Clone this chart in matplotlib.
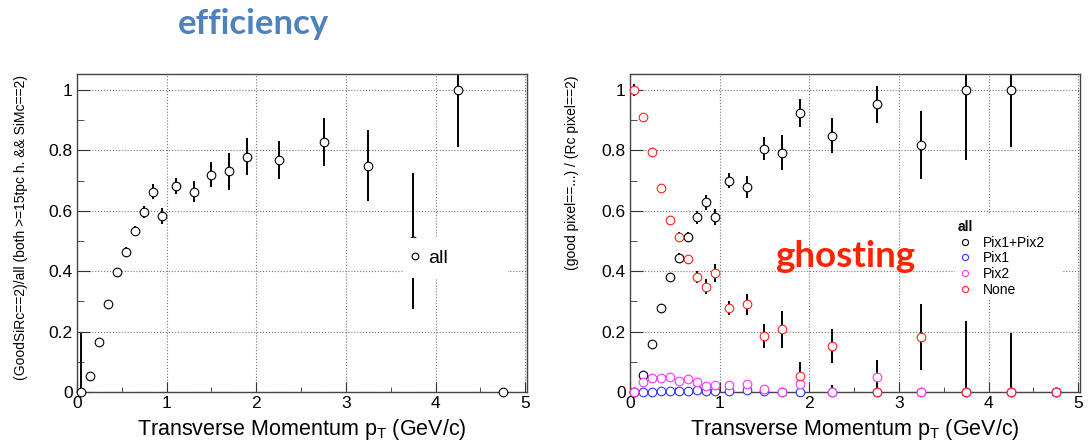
import matplotlib
matplotlib.use('Agg')
import matplotlib.pyplot as plt
from matplotlib.lines import Line2D
from matplotlib.patches import Rectangle
from matplotlib.ticker import MultipleLocator, FuncFormatter

plt.rcParams['font.family'] = ['Liberation Sans', 'DejaVu Sans']
plt.rcParams['mathtext.default'] = 'regular'

# pT bin centres (GeV/c)
pt = [0.05, 0.15, 0.25, 0.35, 0.45, 0.55, 0.65, 0.75, 0.85, 0.95,
      1.1, 1.3, 1.5, 1.7, 1.9, 2.25, 2.75, 3.25, 3.75, 4.25, 4.75]

# left: efficiency, all
eff_all = [0.0, 0.053, 0.164, 0.29, 0.397, 0.464, 0.532, 0.595, 0.663, 0.582,
           0.683, 0.663, 0.72, 0.731, 0.779, 0.768, 0.828, 0.75, 0.50, 1.0, 0.0]
eff_err = [0.195, 0.01, 0.012, 0.014, 0.015, 0.016, 0.017, 0.02, 0.025, 0.027,
           0.026, 0.035, 0.041, 0.062, 0.062, 0.064, 0.079, 0.116, 0.224, 0.19, 0.0]

# right: ghosting fractions
pix12 = [0.0, 0.056, 0.159, 0.277, 0.38, 0.444, 0.513, 0.579, 0.628, 0.579,
         0.70, 0.679, 0.805, 0.792, 0.923, 0.848, 0.953, 0.818, 1.0, 1.0, 0.0]
pix12_err = [0.0, 0.008, 0.012, 0.014, 0.015, 0.016, 0.017, 0.022, 0.025, 0.027,
             0.025, 0.035, 0.038, 0.058, 0.046, 0.058, 0.061, 0.113, 0.232, 0.19, 0.0]
pix1 = [0.0, 0.0, 0.0, 0.002, 0.002, 0.002, 0.003, 0.005, 0.002, 0.003,
        0.003, 0.005, 0.004, 0.0, 0.0, 0.0, 0.0, 0.0, 0.0, 0.0, 0.0]
pix1_err = [0.0, 0.0, 0.0, 0.0, 0.0, 0.0, 0.0, 0.0, 0.0, 0.0,
            0.0, 0.0, 0.012, 0.0, 0.0, 0.0, 0.0, 0.0, 0.0, 0.0, 0.0]
pix2 = [0.0, 0.034, 0.045, 0.045, 0.051, 0.037, 0.044, 0.032, 0.021, 0.023,
        0.023, 0.026, 0.01, 0.0, 0.026, 0.0, 0.051, 0.0, 0.0, 0.0, 0.0]
pix2_err = [0.0, 0.0, 0.0, 0.0, 0.0, 0.0, 0.0, 0.0, 0.0, 0.0,
            0.0, 0.0, 0.0, 0.012, 0.02, 0.024, 0.055, 0.0, 0.0, 0.0, 0.0]
none = [1.0, 0.91, 0.795, 0.676, 0.568, 0.514, 0.439, 0.381, 0.349, 0.395,
        0.277, 0.29, 0.186, 0.207, 0.053, 0.153, 0.0, 0.183, 0.0, 0.0, 0.0]
none_err = [0.02, 0.01, 0.012, 0.013, 0.014, 0.015, 0.016, 0.02, 0.025, 0.03,
            0.023, 0.036, 0.039, 0.06, 0.045, 0.057, 0.0, 0.11, 0.236, 0.195, 0.0]

series = [('Pix1+Pix2', pix12, pix12_err, 'black'),
          ('Pix1', pix1, pix1_err, '#3333ff'),
          ('Pix2', pix2, pix2_err, '#ff33ff'),
          ('None', none, none_err, '#ff2222')]

W, H = 1089, 446
fig = plt.figure(figsize=(W / 100, H / 100), dpi=100)
ax1 = fig.add_axes([77 / W, 54 / H, 450 / W, 318 / H])
ax2 = fig.add_axes([630 / W, 54 / H, 450 / W, 318 / H])

for ax in (ax1, ax2):
    ax.set_xlim(0, 5.02)
    ax.set_ylim(0, 1.053)
    ax.xaxis.set_major_locator(MultipleLocator(1))
    ax.xaxis.set_minor_locator(MultipleLocator(0.5))
    ax.yaxis.set_major_locator(MultipleLocator(0.2))
    ax.yaxis.set_minor_locator(MultipleLocator(0.1))
    ax.yaxis.set_major_formatter(FuncFormatter(lambda v, p: f'{v:g}'))
    ax.tick_params(which='both', direction='in', top=False, right=False,
                   labelsize=12.5, color='#333333')
    ax.tick_params(axis='x', which='major', length=7, pad=3)
    ax.tick_params(axis='x', which='minor', length=3.6)
    ax.tick_params(axis='y', which='major', length=9, pad=3)
    ax.tick_params(axis='y', which='minor', length=4.8)
    ax.grid(True, which='major', ls=':', color='#777777', lw=0.8)
    ax.set_axisbelow(True)
    for s in ax.spines.values():
        s.set_color('#444444')
        s.set_linewidth(1)
    fig.text((ax.get_position().x0 + ax.get_position().x1) / 2, 1 - 435 / H,
             'Transverse Momentum p$_{\\mathregular{T}}$ (GeV/c)',
             ha='center', va='baseline', fontsize=15.5)

# left panel
ax1.errorbar(pt, eff_all, yerr=eff_err, fmt='none', ecolor='black',
             elinewidth=1.4, capsize=0, zorder=2)
ax1.plot(pt, eff_all, 'o', mfc='white', mec='black', ms=6.2, mew=0.8,
         clip_on=False, zorder=3)
ax1.add_patch(Rectangle((0.724, 0.358), 0.234, 0.126, transform=ax1.transAxes,
                        fc='white', ec='none', zorder=4))
ax1.legend(handles=[Line2D([], [], marker='o', ls='none', mfc='white',
                           mec='black', ms=4.8, mew=0.8)],
           labels=['all'], loc='center left', bbox_to_anchor=(0.738, 0.421),
           frameon=False, fontsize=14, handlelength=0.6, handletextpad=0.38,
           borderpad=0, borderaxespad=0)
fig.text(21 / W, 1 - 75 / H, '(GoodSiRc==2)/all (both >=15tpc h. && SiMc==2)',
         rotation=90, ha='center', va='top', fontsize=10)

# right panel
handles = []
for name, vals, errs, col in series:
    ax2.errorbar(pt, vals, yerr=errs, fmt='none', ecolor='black',
                 elinewidth=1.4, capsize=0, zorder=2)
for name, vals, errs, col in series:
    ax2.plot(pt, vals, 'o', mfc='white', mec=col, ms=6.2, mew=0.8,
             clip_on=False, zorder=3)
    handles.append(Line2D([], [], marker='o', ls='none', mfc='white',
                          mec=col, ms=4.4, mew=0.8))
ax2.add_patch(Rectangle((0.722, 0.289), 0.24, 0.268, transform=ax2.transAxes,
                        fc='white', ec='none', zorder=4))
ax2.legend(handles=handles, labels=[s[0] for s in series], title='all',
           title_fontproperties={'weight': 'bold', 'size': 10},
           alignment='left', loc='upper left', bbox_to_anchor=(0.729, 0.541),
           frameon=False, fontsize=10, handlelength=1.0, handletextpad=0.8,
           labelspacing=0.12, borderpad=0, borderaxespad=0)
fig.text(572 / W, 1 - 75 / H, '(good pixel==...) / (Rc pixel==2)',
         rotation=90, ha='center', va='top', fontsize=10)

# slide annotations
fig.text(253 / W, 1 - 34 / H, 'efficiency', ha='center', va='baseline',
         fontsize=25, weight='bold', color='#4F81BD', family=['Lato', 'DejaVu Sans'])
fig.text(845 / W, 1 - 267 / H, 'ghosting', ha='center', va='baseline',
         fontsize=26.5, weight='bold', color='#FF2200', family=['Lato', 'DejaVu Sans'])

fig.savefig('out.png', dpi=100)
